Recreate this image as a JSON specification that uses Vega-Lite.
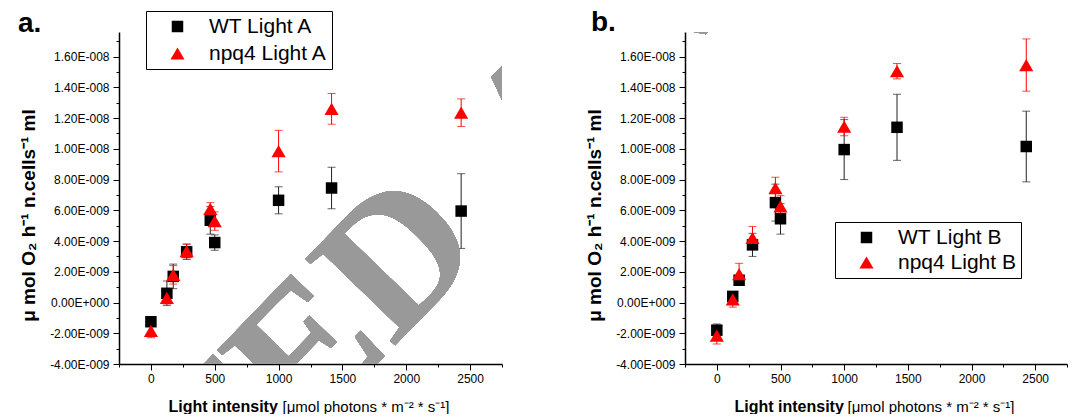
{
  "$schema": "https://vega.github.io/schema/vega-lite/v6.json",
  "background": "white",
  "padding": {"left": 18, "top": 9, "right": 0, "bottom": 0},
  "config": {
    "font": "Liberation Sans",
    "view": {"stroke": null},
    "axis": {"grid": false, "domainColor": "black", "domainWidth": 1.5, "tickColor": "black", "tickWidth": 1, "labelColor": "black", "titleColor": "black", "labelFont": "Liberation Sans", "titleFont": "Liberation Sans", "labelFontSize": 12},
    "legend": {"labelFont": "Liberation Sans", "labelColor": "black"}
  },
  "datasets": {
    "pts": [
      {"panel": "a", "series": "WT Light A", "x": 0, "y": -1.25e-9, "lo": -1.55e-9, "hi": -0.95e-9},
      {"panel": "a", "series": "WT Light A", "x": 125, "y": 0.6e-9, "lo": -0.2e-9, "hi": 1.4e-9},
      {"panel": "a", "series": "WT Light A", "x": 175, "y": 1.7e-9, "lo": 0.9e-9, "hi": 2.5e-9},
      {"panel": "a", "series": "WT Light A", "x": 280, "y": 3.3e-9, "lo": 2.8e-9, "hi": 3.8e-9},
      {"panel": "a", "series": "WT Light A", "x": 465, "y": 5.35e-9, "lo": 4.45e-9, "hi": 6.25e-9},
      {"panel": "a", "series": "WT Light A", "x": 500, "y": 3.9e-9, "lo": 3.4e-9, "hi": 4.4e-9},
      {"panel": "a", "series": "WT Light A", "x": 1000, "y": 6.65e-9, "lo": 5.77e-9, "hi": 7.53e-9},
      {"panel": "a", "series": "WT Light A", "x": 1415, "y": 7.45e-9, "lo": 6.1e-9, "hi": 8.8e-9},
      {"panel": "a", "series": "WT Light A", "x": 2430, "y": 5.95e-9, "lo": 3.52e-9, "hi": 8.38e-9},
      {"panel": "a", "series": "npq4 Light A", "x": 0, "y": -1.85e-9, "lo": -2.3e-9, "hi": -1.4e-9},
      {"panel": "a", "series": "npq4 Light A", "x": 125, "y": 0.3e-9, "lo": -0.1e-9, "hi": 0.7e-9},
      {"panel": "a", "series": "npq4 Light A", "x": 175, "y": 1.8e-9, "lo": 1.2e-9, "hi": 2.4e-9},
      {"panel": "a", "series": "npq4 Light A", "x": 280, "y": 3.35e-9, "lo": 2.9e-9, "hi": 3.8e-9},
      {"panel": "a", "series": "npq4 Light A", "x": 465, "y": 6.1e-9, "lo": 5.7e-9, "hi": 6.5e-9},
      {"panel": "a", "series": "npq4 Light A", "x": 500, "y": 5.3e-9, "lo": 4.7e-9, "hi": 5.9e-9},
      {"panel": "a", "series": "npq4 Light A", "x": 1000, "y": 9.85e-9, "lo": 8.5e-9, "hi": 11.2e-9},
      {"panel": "a", "series": "npq4 Light A", "x": 1415, "y": 12.6e-9, "lo": 11.6e-9, "hi": 13.6e-9},
      {"panel": "a", "series": "npq4 Light A", "x": 2430, "y": 12.35e-9, "lo": 11.45e-9, "hi": 13.25e-9},
      {"panel": "b", "series": "WT Light B", "x": 0, "y": -1.8e-9, "lo": -2.2e-9, "hi": -1.4e-9},
      {"panel": "b", "series": "WT Light B", "x": 125, "y": 0.4e-9, "lo": 0.1e-9, "hi": 0.7e-9},
      {"panel": "b", "series": "WT Light B", "x": 175, "y": 1.45e-9, "lo": 1.15e-9, "hi": 1.75e-9},
      {"panel": "b", "series": "WT Light B", "x": 280, "y": 3.75e-9, "lo": 3.0e-9, "hi": 4.5e-9},
      {"panel": "b", "series": "WT Light B", "x": 460, "y": 6.5e-9, "lo": 5.3e-9, "hi": 7.7e-9},
      {"panel": "b", "series": "WT Light B", "x": 500, "y": 5.45e-9, "lo": 4.45e-9, "hi": 6.45e-9},
      {"panel": "b", "series": "WT Light B", "x": 1000, "y": 9.95e-9, "lo": 8.0e-9, "hi": 11.9e-9},
      {"panel": "b", "series": "WT Light B", "x": 1415, "y": 11.4e-9, "lo": 9.25e-9, "hi": 13.55e-9},
      {"panel": "b", "series": "WT Light B", "x": 2430, "y": 10.15e-9, "lo": 7.85e-9, "hi": 12.45e-9},
      {"panel": "b", "series": "npq4 Light B", "x": 0, "y": -2.15e-9, "lo": -2.7e-9, "hi": -1.6e-9},
      {"panel": "b", "series": "npq4 Light B", "x": 125, "y": 0.2e-9, "lo": -0.3e-9, "hi": 0.7e-9},
      {"panel": "b", "series": "npq4 Light B", "x": 175, "y": 1.85e-9, "lo": 1.15e-9, "hi": 2.55e-9},
      {"panel": "b", "series": "npq4 Light B", "x": 280, "y": 4.2e-9, "lo": 3.45e-9, "hi": 4.95e-9},
      {"panel": "b", "series": "npq4 Light B", "x": 460, "y": 7.45e-9, "lo": 6.75e-9, "hi": 8.15e-9},
      {"panel": "b", "series": "npq4 Light B", "x": 500, "y": 6.25e-9, "lo": 5.55e-9, "hi": 6.95e-9},
      {"panel": "b", "series": "npq4 Light B", "x": 1000, "y": 11.45e-9, "lo": 10.85e-9, "hi": 12.05e-9},
      {"panel": "b", "series": "npq4 Light B", "x": 1415, "y": 15.05e-9, "lo": 14.55e-9, "hi": 15.55e-9},
      {"panel": "b", "series": "npq4 Light B", "x": 2430, "y": 15.45e-9, "lo": 13.75e-9, "hi": 17.15e-9}
    ]
  },
  "resolve": {"scale": {"color": "independent", "shape": "independent", "size": "independent"}, "legend": {"color": "independent", "shape": "independent"}},
  "spacing": 82,
  "hconcat": [
    {
      "width": 383,
      "height": 332,
      "title": {"text": "a.", "anchor": "start", "frame": "group", "align": "left", "dx": -101, "offset": -49, "baseline": "alphabetic", "fontSize": 28, "fontWeight": "bold", "font": "Liberation Sans", "color": "black"},
      "data": {"name": "pts"},
      "transform": [{"filter": "datum.panel == 'a'"}],
      "resolve": {"axis": {"x": "independent", "y": "independent"}},
      "layer": [
        {
          "mark": {"type": "rule", "strokeWidth": 1},
          "encoding": {
            "x": {"field": "x", "type": "quantitative", "scale": {"domain": [-250, 2750], "nice": false, "zero": false}, "axis": null},
            "y": {"field": "lo", "type": "quantitative", "scale": {"domain": [-4e-9, 1.76e-8], "nice": false, "zero": false}, "axis": null},
            "y2": {"field": "hi"},
            "color": {"condition": {"test": "indexof(datum.series, 'WT') == 0", "value": "#222222"}, "value": "#ff0000"}
          }
        },
        {
          "mark": {"type": "tick", "orient": "horizontal", "size": 8, "thickness": 1},
          "encoding": {
            "x": {"field": "x", "type": "quantitative", "axis": null},
            "y": {"field": "lo", "type": "quantitative", "axis": null},
            "color": {"condition": {"test": "indexof(datum.series, 'WT') == 0", "value": "#222222"}, "value": "#ff0000"}
          }
        },
        {
          "mark": {"type": "tick", "orient": "horizontal", "size": 8, "thickness": 1},
          "encoding": {
            "x": {"field": "x", "type": "quantitative", "axis": {"orient": "bottom", "domain": false, "ticks": false, "labels": false, "title": "[μmol photons * m⁻² * s⁻¹]", "titleFontSize": 15, "titleFontWeight": "normal", "titleX": 163, "titleY": 47, "titleAlign": "left", "titleBaseline": "alphabetic", "titleAngle": 0}},
            "y": {"field": "hi", "type": "quantitative", "axis": null},
            "color": {"condition": {"test": "indexof(datum.series, 'WT') == 0", "value": "#222222"}, "value": "#ff0000"}
          }
        },
        {
          "mark": {"type": "point", "filled": true, "opacity": 1, "strokeWidth": 0},
          "encoding": {
            "x": {"field": "x", "type": "quantitative", "axis": {"orient": "bottom", "values": [-250, 0, 250, 500, 750, 1000, 1250, 1500, 1750, 2000, 2250, 2500, 2750], "format": "d", "labelExpr": "datum.value % 500 == 0 ? datum.label : ''", "tickSize": {"condition": {"test": "datum.value % 500 == 0", "value": 6}, "value": 3}, "labelPadding": 3, "title": "Light intensity", "titleFontSize": 16, "titleFontWeight": "bold", "titleX": 49, "titleY": 47, "titleAlign": "left", "titleBaseline": "alphabetic", "titleAngle": 0}},
            "y": {"field": "y", "type": "quantitative", "axis": {"orient": "left", "values": [-4e-9, -3e-9, -2e-9, -1e-9, 0, 1e-9, 2e-9, 3e-9, 4e-9, 5e-9, 6e-9, 7e-9, 8e-9, 9e-9, 1e-8, 1.1e-8, 1.2e-8, 1.3e-8, 1.4e-8, 1.5e-8, 1.6e-8, 1.7e-8], "labelExpr": "round(datum.value*1e9) % 2 != 0 ? '' : (datum.value == 0 ? '0.00E+000' : (datum.value < 0 ? '-' : '') + replace(format(abs(datum.value), '.2e'), 'e-', 'E-00'))", "tickSize": {"condition": {"test": "round(datum.value*1e9) % 2 == 0", "value": 6}, "value": 3}, "labelPadding": 4, "title": "μ mol O₂ h⁻¹ n.cells⁻¹ ml", "titleFontSize": 19, "titleFontWeight": "bold", "titleAngle": 270, "titleX": -85, "titleY": 183, "titleAlign": "center", "titleBaseline": "alphabetic"}},
            "color": {"field": "series", "type": "nominal", "scale": {"domain": ["WT Light A", "npq4 Light A"], "range": ["#000000", "#ff0000"]}, "legend": {"title": null, "orient": "none", "legendX": 27, "legendY": -21, "labelFontSize": 21, "symbolSize": 150, "padding": 5, "symbolOffset": 16, "labelOffset": 21, "rowPadding": 5, "strokeColor": "black", "fillColor": "white", "symbolStrokeWidth": 0, "cornerRadius": 0}},
            "shape": {"field": "series", "type": "nominal", "scale": {"domain": ["WT Light A", "npq4 Light A"], "range": ["square", "triangle-up"]}, "legend": {"title": null, "orient": "none", "legendX": 27, "legendY": -21, "labelFontSize": 21, "symbolSize": 150, "padding": 5, "symbolOffset": 16, "labelOffset": 21, "rowPadding": 5, "strokeColor": "black", "fillColor": "white", "symbolStrokeWidth": 0, "cornerRadius": 0}},
            "size": {"field": "series", "type": "nominal", "scale": {"domain": ["WT Light A", "npq4 Light A"], "range": [132, 200]}, "legend": null}
          }
        },
        {
          "mark": {"type": "text", "clip": true, "text": "ACCEPTED", "font": "Liberation Serif", "fontWeight": "bold", "fontSize": 190, "angle": -46, "align": "right", "baseline": "alphabetic", "color": "#999999"},
          "encoding": {
            "x": {"datum": 2640, "type": "quantitative", "axis": null},
            "y": {"datum": 3.48e-9, "type": "quantitative", "axis": null}
          }
        },
        {
          "mark": {"type": "text", "clip": true, "text": "ARTICLE", "font": "Liberation Serif", "fontWeight": "bold", "fontSize": 190, "angle": -46, "align": "left", "baseline": "alphabetic", "color": "#999999"},
          "encoding": {
            "x": {"datum": 3071, "type": "quantitative", "axis": null},
            "y": {"datum": 6.41e-9, "type": "quantitative", "axis": null}
          }
        }
      ]
    },
    {
      "width": 382,
      "height": 332,
      "title": {"text": "b.", "anchor": "start", "frame": "group", "align": "left", "dx": -94, "offset": -27, "baseline": "alphabetic", "fontSize": 28, "fontWeight": "bold", "font": "Liberation Sans", "color": "black"},
      "data": {"name": "pts"},
      "transform": [{"filter": "datum.panel == 'b'"}],
      "resolve": {"axis": {"x": "independent", "y": "independent"}},
      "layer": [
        {
          "mark": {"type": "rule", "strokeWidth": 1},
          "encoding": {
            "x": {"field": "x", "type": "quantitative", "scale": {"domain": [-250, 2750], "nice": false, "zero": false}, "axis": null},
            "y": {"field": "lo", "type": "quantitative", "scale": {"domain": [-4e-9, 1.76e-8], "nice": false, "zero": false}, "axis": null},
            "y2": {"field": "hi"},
            "color": {"condition": {"test": "indexof(datum.series, 'WT') == 0", "value": "#222222"}, "value": "#ff0000"}
          }
        },
        {
          "mark": {"type": "tick", "orient": "horizontal", "size": 8, "thickness": 1},
          "encoding": {
            "x": {"field": "x", "type": "quantitative", "axis": null},
            "y": {"field": "lo", "type": "quantitative", "axis": null},
            "color": {"condition": {"test": "indexof(datum.series, 'WT') == 0", "value": "#222222"}, "value": "#ff0000"}
          }
        },
        {
          "mark": {"type": "tick", "orient": "horizontal", "size": 8, "thickness": 1},
          "encoding": {
            "x": {"field": "x", "type": "quantitative", "axis": {"orient": "bottom", "domain": false, "ticks": false, "labels": false, "title": "[μmol photons * m⁻² * s⁻¹]", "titleFontSize": 15, "titleFontWeight": "normal", "titleX": 162, "titleY": 47, "titleAlign": "left", "titleBaseline": "alphabetic", "titleAngle": 0}},
            "y": {"field": "hi", "type": "quantitative", "axis": null},
            "color": {"condition": {"test": "indexof(datum.series, 'WT') == 0", "value": "#222222"}, "value": "#ff0000"}
          }
        },
        {
          "mark": {"type": "point", "filled": true, "opacity": 1, "strokeWidth": 0},
          "encoding": {
            "x": {"field": "x", "type": "quantitative", "axis": {"orient": "bottom", "values": [-250, 0, 250, 500, 750, 1000, 1250, 1500, 1750, 2000, 2250, 2500, 2750], "format": "d", "labelExpr": "datum.value % 500 == 0 ? datum.label : ''", "tickSize": {"condition": {"test": "datum.value % 500 == 0", "value": 6}, "value": 3}, "labelPadding": 3, "title": "Light intensity", "titleFontSize": 16, "titleFontWeight": "bold", "titleX": 49, "titleY": 47, "titleAlign": "left", "titleBaseline": "alphabetic", "titleAngle": 0}},
            "y": {"field": "y", "type": "quantitative", "axis": {"orient": "left", "values": [-4e-9, -3e-9, -2e-9, -1e-9, 0, 1e-9, 2e-9, 3e-9, 4e-9, 5e-9, 6e-9, 7e-9, 8e-9, 9e-9, 1e-8, 1.1e-8, 1.2e-8, 1.3e-8, 1.4e-8, 1.5e-8, 1.6e-8, 1.7e-8], "labelExpr": "round(datum.value*1e9) % 2 != 0 ? '' : (datum.value == 0 ? '0.00E+000' : (datum.value < 0 ? '-' : '') + replace(format(abs(datum.value), '.2e'), 'e-', 'E-00'))", "tickSize": {"condition": {"test": "round(datum.value*1e9) % 2 == 0", "value": 6}, "value": 3}, "labelPadding": 4, "title": "μ mol O₂ h⁻¹ n.cells⁻¹ ml", "titleFontSize": 19, "titleFontWeight": "bold", "titleAngle": 270, "titleX": -85, "titleY": 183, "titleAlign": "center", "titleBaseline": "alphabetic"}},
            "color": {"field": "series", "type": "nominal", "scale": {"domain": ["WT Light B", "npq4 Light B"], "range": ["#000000", "#ff0000"]}, "legend": {"title": null, "orient": "none", "legendX": 150, "legendY": 190, "labelFontSize": 21, "symbolSize": 150, "padding": 5, "symbolOffset": 16, "labelOffset": 21, "rowPadding": 3, "strokeColor": "black", "fillColor": "white", "symbolStrokeWidth": 0, "cornerRadius": 0}},
            "shape": {"field": "series", "type": "nominal", "scale": {"domain": ["WT Light B", "npq4 Light B"], "range": ["square", "triangle-up"]}, "legend": {"title": null, "orient": "none", "legendX": 150, "legendY": 190, "labelFontSize": 21, "symbolSize": 150, "padding": 5, "symbolOffset": 16, "labelOffset": 21, "rowPadding": 3, "strokeColor": "black", "fillColor": "white", "symbolStrokeWidth": 0, "cornerRadius": 0}},
            "size": {"field": "series", "type": "nominal", "scale": {"domain": ["WT Light B", "npq4 Light B"], "range": [132, 200]}, "legend": null}
          }
        },
        {
          "mark": {"type": "text", "clip": true, "text": "ACCEPTED", "font": "Liberation Serif", "fontWeight": "bold", "fontSize": 190, "angle": -46, "align": "right", "baseline": "alphabetic", "color": "#999999"},
          "encoding": {
            "x": {"datum": -1805, "type": "quantitative", "axis": null},
            "y": {"datum": 3.48e-9, "type": "quantitative", "axis": null}
          }
        },
        {
          "mark": {"type": "text", "clip": true, "text": "ARTICLE", "font": "Liberation Serif", "fontWeight": "bold", "fontSize": 190, "angle": -46, "align": "left", "baseline": "alphabetic", "color": "#999999"},
          "encoding": {
            "x": {"datum": -1373, "type": "quantitative", "axis": null},
            "y": {"datum": 6.41e-9, "type": "quantitative", "axis": null}
          }
        }
      ]
    }
  ]
}
